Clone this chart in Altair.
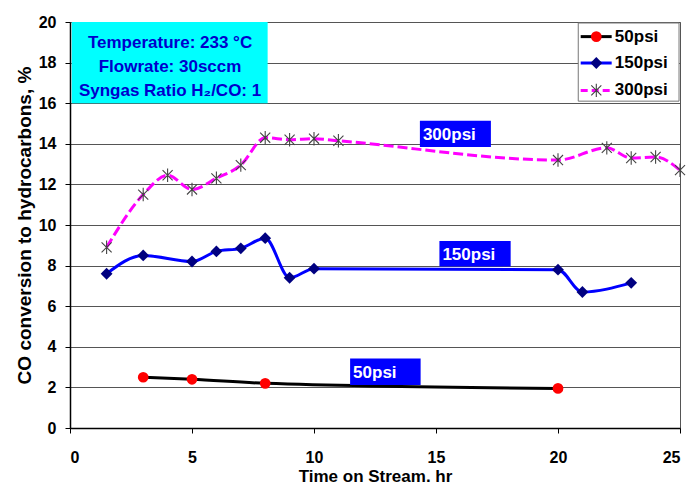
import altair as alt
import pandas as pd

# Measured CO conversion (%) vs. time on stream (hr) at three pressures
t_50 = [3, 5, 8, 20]
co_50 = [2.5, 2.4, 2.2, 1.95]

t_150 = [1.5, 3, 5, 6, 7, 8, 9, 10, 20, 21, 23]
co_150 = [7.6, 8.5, 8.2, 8.7, 8.85, 9.35, 7.4, 7.85, 7.8, 6.7, 7.15]

t_300 = [1.5, 3, 4, 5, 6, 7, 8, 9, 10, 11, 20, 22, 23, 24, 25]
co_300 = [8.9, 11.5, 12.45, 11.75, 12.3, 12.95, 14.3, 14.2, 14.25, 14.15, 13.2, 13.8, 13.3, 13.35, 12.7]

series_names = ["50psi", "150psi", "300psi"]

# In-plot tag boxes (data coordinates)
tag_text = ["300psi", "150psi", "50psi"]
tag_x0 = [14.34, 15.14, 11.48]
tag_x1 = [17.25, 18.06, 14.37]
tag_y0 = [13.84, 7.95, 2.12]
tag_y1 = [15.14, 9.21, 3.42]

# Conditions box
cond_lines = ["Temperature: 233 °C", "Flowrate: 30sccm", "Syngas Ratio H₂/CO: 1"]
cond_y = [18.98, 17.8, 16.6]

FONT = "Liberation Sans"
X = alt.Scale(domain=[0, 25], nice=False)
Y = alt.Scale(domain=[0, 20], nice=False)

df50 = pd.DataFrame({"t": t_50, "co": co_50})
df150 = pd.DataFrame({"t": t_150, "co": co_150})
df300 = pd.DataFrame({"t": t_300, "co": co_300})

x_enc = alt.X("t:Q", scale=X, title="Time on Stream. hr",
              axis=alt.Axis(values=[0, 5, 10, 15, 20, 25], grid=False))
y_enc = alt.Y("co:Q", scale=Y, title="CO conversion to hydrocarbons, %",
              axis=alt.Axis(values=list(range(0, 21, 2)), grid=True))

def line(df, color, dash=None):
    kw = dict(color=color, strokeWidth=3, interpolate="monotone")
    if dash:
        kw["strokeDash"] = dash
    return alt.Chart(df).mark_line(**kw).encode(x=x_enc, y=y_enc)

asterisk = "M-0.75,-0.75L0.75,0.75M-0.75,0.75L0.75,-0.75M0,-1L0,1"

l50 = line(df50, "black")
l150 = line(df150, "#0000ff")
l300 = line(df300, "#ff00ff", [10, 4])

p50 = alt.Chart(df50).mark_point(shape="circle", filled=True, color="#ff0000",
                                 size=115, opacity=1).encode(x="t:Q", y="co:Q")
p150 = alt.Chart(df150).mark_point(shape="diamond", filled=True, color="#000080",
                                   size=140, opacity=1).encode(x="t:Q", y="co:Q")
p300 = alt.Chart(df300).mark_point(shape=asterisk, filled=False, color="#444444",
                                   size=180, strokeWidth=1.1, opacity=1).encode(x="t:Q", y="co:Q")

tags = pd.DataFrame({"label": tag_text, "x0": tag_x0, "x1": tag_x1,
                     "y0": tag_y0, "y1": tag_y1})
tags["ym"] = (tags["y0"] + tags["y1"]) / 2
tag_box = alt.Chart(tags).mark_rect(color="#0000ff").encode(
    x="x0:Q", x2="x1", y="y0:Q", y2="y1")
tag_lbl = alt.Chart(tags).mark_text(align="left", baseline="middle", dx=3, dy=1,
                                    font=FONT, fontWeight="bold", fontSize=17,
                                    color="white").encode(x="x0:Q", y="ym:Q", text="label:N")

cond = pd.DataFrame({"line": cond_lines, "y": cond_y, "x": [4.1] * 3})
cond_box = alt.Chart(pd.DataFrame({"x0": [0.07], "x1": [8.1], "y0": [16.0], "y1": [20]})).mark_rect(
    color="#00ffff").encode(x="x0:Q", x2="x1", y="y0:Q", y2="y1")
cond_txt = alt.Chart(cond).mark_text(align="center", baseline="middle", font=FONT,
                                     fontWeight="bold", fontSize=17, color="#0000cc").encode(
    x="x:Q", y="y:Q", text="line:N")

# Legend panel
leg_y = [19.28, 17.98, 16.63]
leg = pd.DataFrame({"name": series_names, "y": leg_y,
                    "x0": [20.93] * 3, "x1": [22.2] * 3, "xm": [21.57] * 3, "xt": [22.33] * 3})
leg_box = alt.Chart(pd.DataFrame({"x0": [20.83], "x1": [24.96], "y0": [16.1], "y1": [19.95]})).mark_rect(
    fill="white", stroke="#777777", strokeWidth=1).encode(x="x0:Q", x2="x1", y="y0:Q", y2="y1")
leg_line_colors = {"50psi": "black", "150psi": "#0000ff", "300psi": "#ff00ff"}
leg_lines = []
for nm, col in leg_line_colors.items():
    sub = leg[leg["name"] == nm]
    kw = dict(color=col, strokeWidth=3)
    if nm == "300psi":
        kw["strokeDash"] = [7, 4]
    leg_lines.append(alt.Chart(sub).mark_rule(**kw).encode(x="x0:Q", x2="x1", y="y:Q"))
leg_m50 = alt.Chart(leg[leg["name"] == "50psi"]).mark_point(
    shape="circle", filled=True, color="#ff0000", size=115, opacity=1).encode(x="xm:Q", y="y:Q")
leg_m150 = alt.Chart(leg[leg["name"] == "150psi"]).mark_point(
    shape="diamond", filled=True, color="#000080", size=140, opacity=1).encode(x="xm:Q", y="y:Q")
leg_m300 = alt.Chart(leg[leg["name"] == "300psi"]).mark_point(
    shape=asterisk, filled=False, color="#444444", size=180, strokeWidth=1.1, opacity=1).encode(x="xm:Q", y="y:Q")
leg_txt = alt.Chart(leg).mark_text(align="left", baseline="middle", font=FONT,
                                   fontWeight="bold", fontSize=17, color="black").encode(
    x="xt:Q", y="y:Q", text="name:N")

chart = alt.layer(
    l50, l150, l300, p50, p150, p300,
    tag_box, tag_lbl, cond_box, cond_txt,
    leg_box, *leg_lines, leg_m50, leg_m150, leg_m300, leg_txt,
).properties(
    width=610, height=406,
    autosize=alt.AutoSizeParams(type="none"),
    padding={"left": 70, "top": 22, "right": 12, "bottom": 59},
).configure_view(
    stroke="#555555", strokeWidth=1
).configure_axis(
    labelFont=FONT, titleFont=FONT, labelFontWeight="bold", titleFontWeight="bold",
    labelFontSize=16, titleFontSize=17, labelColor="black", titleColor="black",
    domainColor="black", domainWidth=1.5, tickColor="black", tickSize=5, tickWidth=1,
    gridColor="#555555", gridWidth=1,
).configure_axisX(
    labelPadding=16, titlePadding=3
).configure_axisY(
    labelPadding=9, titlePadding=4, titleFontSize=19
)

chart.save("out.html", embed_options={"renderer": "svg", "actions": False})
